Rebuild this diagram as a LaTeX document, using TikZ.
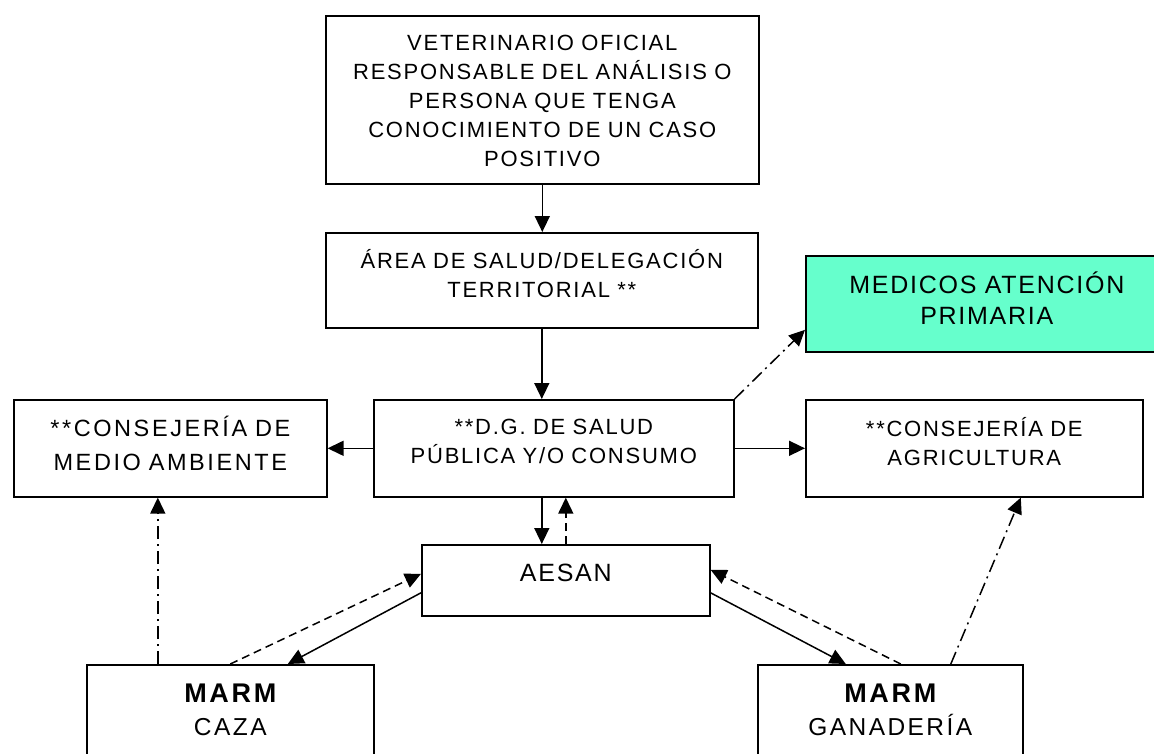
\documentclass[tikz,border=0pt]{standalone}
\usepackage{fontspec}
\setmainfont{Liberation Sans}
\newfontfamily\fuentenormal[LetterSpace=8]{Liberation Sans}
\newfontfamily\fuenteancha[LetterSpace=11]{Liberation Sans}
\newfontfamily\fuentegrande[LetterSpace=7]{Liberation Sans}
\newfontfamily\fuentemarm[LetterSpace=10]{Liberation Sans}
\usetikzlibrary{arrows.meta}
\definecolor{verdeagua}{HTML}{66FFCC}

\begin{document}
\begin{tikzpicture}[x=1pt, y=1pt,
    caja/.style={draw, line width=1.6pt, anchor=north west, inner sep=0pt, align=center,
      font=\fuentenormal\fontsize{22}{29}\selectfont},
    flecha/.style={line width=1.5pt, -{Triangle[length=16pt, width=15pt]}},
    discontinua/.style={dash pattern=on 8pt off 5pt},
    puntoraya/.style={dash pattern=on 13pt off 5pt on 2pt off 5pt}]
    \useasboundingbox (0,0) rectangle (1154,-753);

    \node[caja, text width=433pt, text height=35pt, text depth=133pt] (vet) at (325,-15)
      {VETERINARIO OFICIAL\\RESPONSABLE DEL ANÁLISIS O\\PERSONA QUE TENGA\\CONOCIMIENTO DE UN CASO\\POSITIVO};
    \node[caja, text width=432pt, text height=35.5pt, text depth=59.5pt] (area) at (325,-232)
      {ÁREA DE SALUD/DELEGACIÓN\\TERRITORIAL **};
    \node[caja, fill=verdeagua, text width=362pt, text height=38pt, text depth=58pt,
      font=\fuentegrande\fontsize{25}{31}\selectfont] (med) at (805,-255)
      {MEDICOS ATENCIÓN\\PRIMARIA};
    \node[caja, text width=313pt, text height=36.7pt, text depth=60.3pt,
      font=\fuenteancha\fontsize{23.5}{34}\selectfont] (ma) at (13,-399)
      {**CONSEJERÍA DE\\MEDIO AMBIENTE};
    \node[caja, text width=360pt, text height=35pt, text depth=62pt] (dg) at (373,-399)
      {**D.G. DE SALUD\\PÚBLICA Y/O CONSUMO};
    \node[caja, text width=337pt, text height=36.5pt, text depth=60.5pt] (agr) at (805,-399)
      {**CONSEJERÍA DE\\AGRICULTURA};
    \node[caja, text width=288pt, text height=37pt, text depth=34pt,
      font=\fuentegrande\fontsize{25}{31}\selectfont] (aesan) at (421,-544)
      {AESAN};
    \node[caja, text width=287pt, text height=38pt, text depth=68pt,
      font=\fuentemarm\fontsize{24.5}{33}\selectfont] (caza) at (86,-664)
      {{\fontsize{27}{33}\selectfont\bfseries MARM}\\CAZA};
    \node[caja, text width=265pt, text height=38pt, text depth=68pt,
      font=\fuentemarm\fontsize{24.5}{33}\selectfont] (gan) at (757,-664)
      {{\fontsize{27}{33}\selectfont\bfseries MARM}\\GANADERÍA};

    \draw[flecha] (vet.south) -- (vet.south |- area.north);
    \draw[flecha] (area.south) -- (area.south |- dg.north);
    \draw[flecha] (dg.west) -- (ma.east);
    \draw[flecha] (dg.east) -- (agr.west);
    \draw[flecha] (area.south |- dg.south) -- (area.south |- aesan.north);
    \draw[flecha, discontinua] (aesan.north) -- (aesan.north |- dg.south);
    \draw[flecha, puntoraya] (dg.north east) -- ([yshift=-26pt]med.west);
    \draw[flecha] ([yshift=-12.5pt]aesan.west) -- ([xshift=57.5pt]caza.north);
    \draw[flecha, discontinua] (caza.north) -- ([yshift=6.5pt]aesan.west);
    \draw[flecha, puntoraya] ([xshift=-72.5pt]caza.north) -- ([xshift=-72.5pt]caza.north |- ma.south);
    \draw[flecha] ([yshift=-12.5pt]aesan.east) -- ([xshift=-44.5pt]gan.north);
    \draw[flecha, discontinua] ([xshift=10.5pt]gan.north) -- ([yshift=10.5pt]aesan.east);
    \draw[flecha, puntoraya] ([xshift=60.5pt]gan.north) -- ([xshift=46.5pt]agr.south);
\end{tikzpicture}
\end{document}
